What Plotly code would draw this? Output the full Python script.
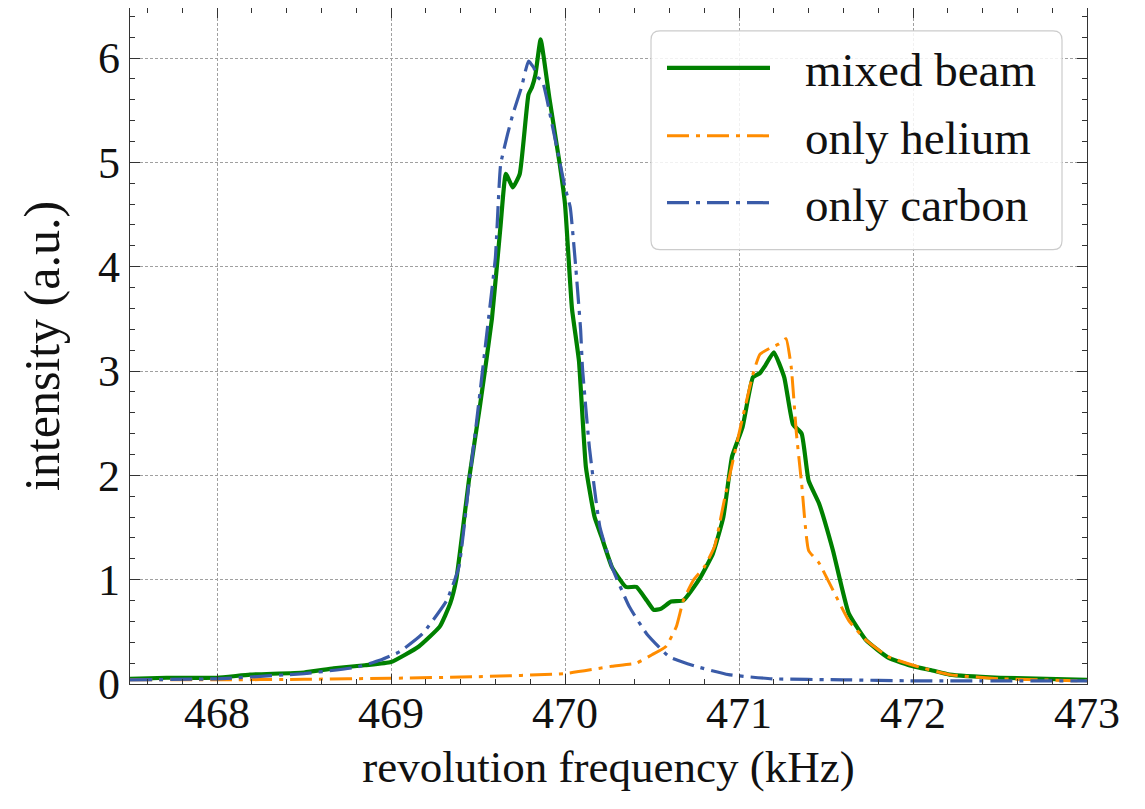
import plotly.graph_objects as go

# ---- data ----
mixed_x = [467.5, 467.71, 468.0, 468.19, 468.5, 468.67, 468.85, 469.0, 469.16, 469.28, 469.34,
           469.375, 469.45, 469.51, 469.58, 469.63, 469.66, 469.70, 469.74, 469.79, 469.81,
           469.83, 469.86, 469.91, 469.97, 470.0, 470.04, 470.08, 470.12, 470.17, 470.21,
           470.27, 470.35, 470.41, 470.47, 470.51, 470.55, 470.61, 470.68, 470.77, 470.85,
           470.91, 470.96, 471.02, 471.08, 471.12, 471.15, 471.20, 471.26, 471.31, 471.36,
           471.40, 471.46, 471.54, 471.63, 471.73, 471.86, 472.0, 472.11, 472.21, 472.5, 473.0]
mixed_y = [0.05, 0.06, 0.06, 0.09, 0.11, 0.15, 0.18, 0.21, 0.36, 0.55, 0.77,
           1.0, 1.98, 2.65, 3.5, 4.4, 4.89, 4.76, 4.89, 5.65, 5.72,
           5.84, 6.18, 5.62, 4.98, 4.6, 3.6, 3.1, 2.08, 1.6, 1.41,
           1.12, 0.93, 0.93, 0.80, 0.71, 0.72, 0.79, 0.80, 1.0, 1.25,
           1.6, 2.18, 2.46, 2.94, 2.98, 3.05, 3.18, 2.94, 2.49, 2.40,
           1.95, 1.73, 1.28, 0.68, 0.42, 0.25, 0.17, 0.13, 0.09, 0.06, 0.04]

helium_x = [467.5, 468.0, 468.5, 469.0, 469.5, 470.0, 470.27, 470.41, 470.50, 470.58, 470.64,
            470.68, 470.74, 470.80, 470.86, 470.92, 471.0, 471.08, 471.12, 471.19, 471.23, 471.27,
            471.30, 471.33, 471.36, 471.40, 471.46, 471.54, 471.63, 471.73, 471.86, 472.02,
            472.21, 472.5, 473.0]
helium_y = [0.04, 0.04, 0.045, 0.055, 0.07, 0.10, 0.17, 0.20, 0.28, 0.36, 0.55,
            0.80, 1.0, 1.12, 1.32, 1.80, 2.40, 2.97, 3.16, 3.23, 3.26, 3.31,
            3.04, 2.40, 1.92, 1.28, 1.16, 0.90, 0.61, 0.42, 0.26, 0.17,
            0.09, 0.05, 0.03]

carbon_x = [467.5, 468.0, 468.5, 468.8, 468.94, 469.05, 469.18, 469.32, 469.39, 469.45, 469.49,
            469.55, 469.60, 469.63, 469.67, 469.70, 469.75, 469.79, 469.82, 469.84, 469.87,
            469.93, 470.0, 470.03, 470.06, 470.09, 470.10, 470.14, 470.20, 470.27, 470.37,
            470.47, 470.60, 470.75, 470.94, 471.19, 471.6, 472.0, 473.0]
carbon_y = [0.04, 0.05, 0.10, 0.16, 0.23, 0.31, 0.48, 0.80, 1.12, 1.95, 2.49,
            3.35, 4.09, 4.98, 5.27, 5.46, 5.72, 5.97, 5.91, 5.82, 5.78,
            5.33, 4.76, 4.57, 4.03, 3.39, 3.04, 2.27, 1.51, 1.12, 0.74,
            0.48, 0.26, 0.17, 0.09, 0.05, 0.04, 0.03, 0.03]

series_names = ["mixed beam", "only helium", "only carbon"]
series_colors = ["#008000", "#ff8c00", "#3a5ba8"]

x_ticks = [468, 469, 470, 471, 472, 473]
y_ticks = [0, 1, 2, 3, 4, 5, 6]

FONT = "Liberation Serif, DejaVu Serif, serif"
DASHDOT = "22px,7px,4px,7px"

fig = go.Figure()
fig.add_trace(go.Scatter(x=mixed_x, y=mixed_y, mode="lines", name=series_names[0],
                         line=dict(color=series_colors[0], width=4.2, shape="spline", smoothing=0.4)))
fig.add_trace(go.Scatter(x=helium_x, y=helium_y, mode="lines", name=series_names[1],
                         line=dict(color=series_colors[1], width=3, dash=DASHDOT, shape="spline", smoothing=0.4)))
fig.add_trace(go.Scatter(x=carbon_x, y=carbon_y, mode="lines", name=series_names[2],
                         line=dict(color=series_colors[2], width=3.2, dash=DASHDOT, shape="spline", smoothing=0.4)))

axis_common = dict(
    showline=True, linecolor="#333333", linewidth=1.2, mirror="allticks",
    ticks="inside", ticklen=10, tickwidth=1, tickcolor="#333333",
    showgrid=True, gridcolor="#a0a0a0", gridwidth=0.8, griddash="3px,2px",
    zeroline=False,
    tickfont=dict(family=FONT, size=44, color="#111111"),
)

fig.update_xaxes(**axis_common, range=[467.5, 473], tickvals=x_ticks, ticklabelstandoff=-10,
                 minor=dict(ticks="inside", dtick=0.2, ticklen=5, tickcolor="#333333", showgrid=False),
                 title=dict(text="revolution frequency (kHz)", font=dict(family=FONT, size=45, color="#111111"),
                            standoff=13))
fig.update_yaxes(**axis_common, range=[0, 6.48], tickvals=y_ticks,
                 minor=dict(ticks="inside", dtick=0.2, ticklen=5, tickcolor="#333333", showgrid=False),
                 title=dict(text="intensity (a.u.)", font=dict(family=FONT, size=50, color="#111111"),
                            standoff=22))

# ---- manual legend (matplotlib-like rounded frame); page body adds an 8px offset ----
OFF = 8
Wd, Hd = 957.0, 677.0
def px(xp):
    return (xp - 130) / Wd
def py(yp):
    return (684 - yp) / Hd

x0, x1, y0, y1, r = px(651), px(1062), py(249), py(30), 9
rx, ry = r / Wd, r / Hd
path = (f"M {x0+rx},{y0} L {x1-rx},{y0} Q {x1},{y0} {x1},{y0+ry} "
        f"L {x1},{y1-ry} Q {x1},{y1} {x1-rx},{y1} L {x0+rx},{y1} Q {x0},{y1} {x0},{y1-ry} "
        f"L {x0},{y0+ry} Q {x0},{y0} {x0+rx},{y0} Z")
fig.add_shape(type="path", path=path, xref="paper", yref="paper",
              line=dict(color="#cccccc", width=1.2), fillcolor="rgba(255,255,255,0.85)", layer="above")

rows = [67, 135, 202]
dashes = ["solid", DASHDOT, DASHDOT]
widths = [4.2, 3, 3.2]
for name, col, yrow, d, w in zip(series_names, series_colors, rows, dashes, widths):
    fig.add_shape(type="line", xref="paper", yref="paper", x0=px(667), x1=px(770), y0=py(yrow), y1=py(yrow),
                  line=dict(color=col, width=w, dash=d), layer="above")
    fig.add_annotation(x=px(803), y=py(yrow + 2), xref="paper", yref="paper", text=name, showarrow=False,
                       xanchor="left", yanchor="middle", font=dict(family=FONT, size=47, color="#111111"))

fig.update_layout(
    width=1145 - OFF, height=809 - OFF,
    margin=dict(l=130 - OFF, r=58, t=0, b=125, autoexpand=False),
    paper_bgcolor="white", plot_bgcolor="white",
    showlegend=False,
    font=dict(family=FONT, color="#111111"),
)

fig.write_html("out.html")
